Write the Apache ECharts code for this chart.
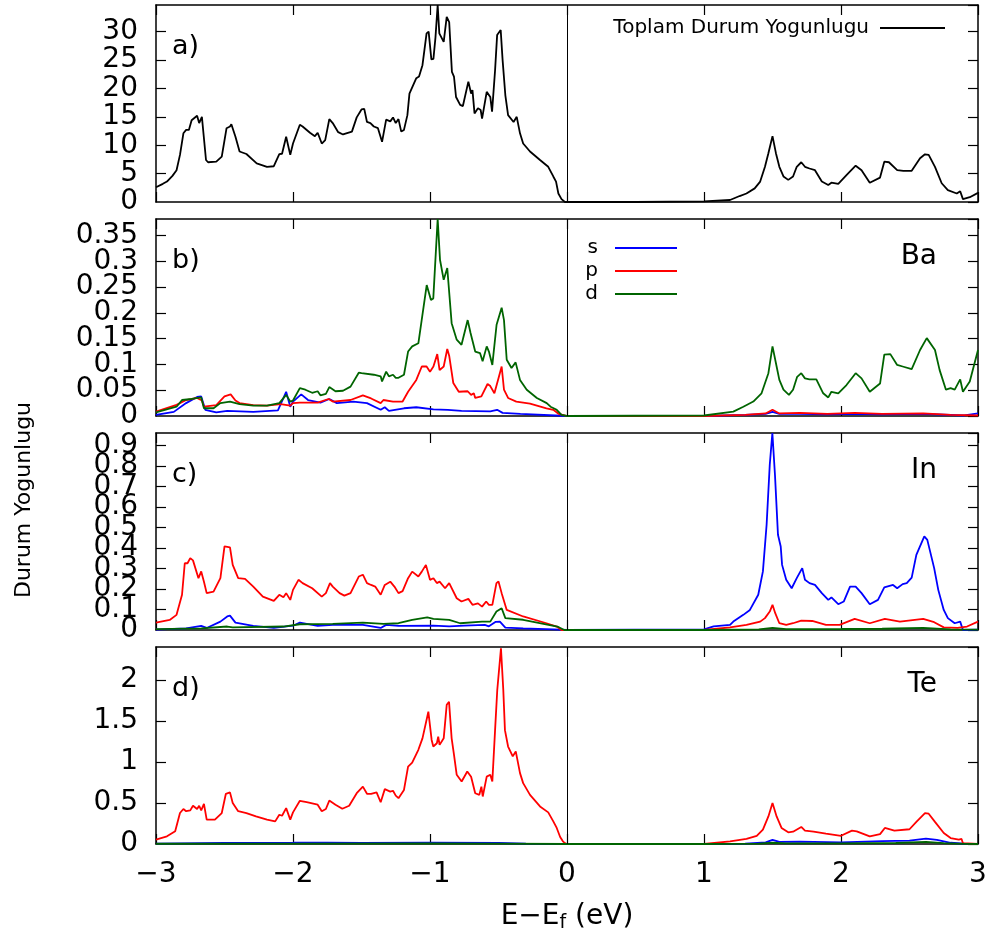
<!DOCTYPE html>
<html>
<head>
<meta charset="utf-8">
<script src="https://cdn.jsdelivr.net/npm/echarts@6/dist/echarts.min.js"></script>
<style>
html,body{margin:0;padding:0;background:#fff;}
#chart{width:995px;height:947px;}
</style>
</head>
<body>
<div id="chart"></div>
<script>
// ---------- DATA (energy in eV, DOS values) ----------
const xTicks = [-3, -2, -1, 0, 1, 2, 3];
const panelLetters = ['a)', 'b)', 'c)', 'd)'];
const atomNames = ['', 'Ba', 'In', 'Te'];
const yMax = [34.7, 0.382, 0.962, 2.405];
const yStep = [5, 0.05, 0.1, 0.5];

const total = [[-3.0,2.6],[-2.95,3.2],[-2.92,3.6],[-2.88,4.6],[-2.85,5.6],[-2.825,8.3],[-2.80,12.1],[-2.78,12.7],[-2.76,12.7],[-2.74,14.4],[-2.70,15.2],[-2.685,13.9],[-2.665,15.0],[-2.635,7.4],[-2.62,7.0],[-2.56,7.1],[-2.52,8.0],[-2.485,13.0],[-2.46,13.3],[-2.45,13.7],[-2.42,11.5],[-2.39,8.9],[-2.34,8.45],[-2.265,6.8],[-2.19,6.2],[-2.14,6.3],[-2.10,8.45],[-2.08,8.5],[-2.05,11.5],[-2.02,8.3],[-2.00,10.3],[-1.95,13.6],[-1.93,13.3],[-1.876,12.2],[-1.84,11.6],[-1.82,12.2],[-1.79,10.3],[-1.765,10.9],[-1.735,14.6],[-1.71,13.9],[-1.67,12.3],[-1.635,11.9],[-1.57,12.4],[-1.535,14.9],[-1.50,16.3],[-1.48,16.4],[-1.46,14.1],[-1.435,13.9],[-1.41,13.3],[-1.38,13.0],[-1.35,10.6],[-1.32,14.5],[-1.29,14.2],[-1.27,14.9],[-1.25,13.9],[-1.23,14.6],[-1.21,12.4],[-1.19,12.7],[-1.165,15.3],[-1.15,19.1],[-1.13,20.2],[-1.10,21.8],[-1.08,22.1],[-1.055,24.1],[-1.025,29.7],[-1.01,30.0],[-0.99,25.1],[-0.975,25.2],[-0.96,29.0],[-0.944,34.7],[-0.932,29.7],[-0.90,28.2],[-0.878,32.6],[-0.86,31.7],[-0.84,22.9],[-0.825,22.1],[-0.81,18.5],[-0.78,17.1],[-0.76,16.9],[-0.72,21.2],[-0.70,19.1],[-0.69,19.7],[-0.675,15.6],[-0.65,16.5],[-0.63,16.2],[-0.62,14.7],[-0.586,19.4],[-0.56,18.5],[-0.547,15.9],[-0.525,23.2],[-0.51,29.4],[-0.484,30.3],[-0.47,25.0],[-0.45,18.8],[-0.43,15.3],[-0.39,14.1],[-0.367,15.0],[-0.343,12.1],[-0.32,10.3],[-0.27,8.9],[-0.197,7.4],[-0.137,6.2],[-0.10,4.5],[-0.08,3.6],[-0.063,1.5],[-0.04,0.5],[-0.015,0],[0,0],[0.5,0],[1.0,0.1],[1.19,0.35],[1.26,1.05],[1.31,1.5],[1.37,2.4],[1.41,3.6],[1.445,6.2],[1.47,8.6],[1.50,11.6],[1.525,8.6],[1.55,6.2],[1.56,6.2],[1.58,4.5],[1.615,3.9],[1.65,4.5],[1.677,6.2],[1.71,7.0],[1.737,6.2],[1.77,5.9],[1.81,5.6],[1.86,3.6],[1.907,3.0],[1.93,3.4],[1.98,3.2],[2.04,4.75],[2.107,6.4],[2.15,5.6],[2.21,3.4],[2.285,4.3],[2.316,7.1],[2.35,7.0],[2.41,5.6],[2.455,5.5],[2.516,5.5],[2.577,7.7],[2.613,8.4],[2.64,8.3],[2.686,6.2],[2.735,3.3],[2.78,2.1],[2.845,1.5],[2.87,1.9],[2.89,0.5],[2.94,0.85],[3.0,1.6]];

const baS = [[-3.0,0.002],[-2.87,0.008],[-2.78,0.025],[-2.70,0.037],[-2.67,0.038],[-2.64,0.012],[-2.56,0.007],[-2.48,0.010],[-2.29,0.008],[-2.11,0.011],[-2.05,0.047],[-2.02,0.018],[-2.0,0.028],[-1.94,0.042],[-1.89,0.031],[-1.80,0.026],[-1.735,0.033],[-1.68,0.025],[-1.56,0.028],[-1.46,0.025],[-1.36,0.012],[-1.33,0.017],[-1.30,0.010],[-1.19,0.015],[-1.10,0.017],[-0.975,0.013],[-0.87,0.012],[-0.77,0.010],[-0.56,0.009],[-0.51,0.012],[-0.47,0.006],[-0.34,0.004],[0,0],[1.0,0],[1.3,0.002],[1.45,0.004],[1.5,0.008],[1.55,0.004],[1.7,0.004],[1.9,0.003],[2.1,0.004],[2.3,0.003],[2.6,0.004],[2.9,0.001],[3.0,0.005]];
const baP = [[-3.0,0.0085],[-2.85,0.0215],[-2.78,0.031],[-2.70,0.035],[-2.665,0.030],[-2.65,0.018],[-2.56,0.021],[-2.50,0.038],[-2.455,0.042],[-2.42,0.030],[-2.39,0.025],[-2.29,0.021],[-2.19,0.020],[-2.09,0.023],[-2.02,0.020],[-2.0,0.025],[-1.95,0.026],[-1.82,0.026],[-1.74,0.033],[-1.71,0.028],[-1.58,0.031],[-1.49,0.040],[-1.43,0.034],[-1.36,0.025],[-1.34,0.031],[-1.27,0.028],[-1.20,0.028],[-1.16,0.047],[-1.10,0.070],[-1.06,0.096],[-1.025,0.096],[-1.00,0.086],[-0.975,0.096],[-0.947,0.120],[-0.93,0.089],[-0.90,0.096],[-0.874,0.130],[-0.86,0.117],[-0.83,0.064],[-0.79,0.047],[-0.725,0.048],[-0.70,0.041],[-0.68,0.044],[-0.67,0.035],[-0.625,0.038],[-0.58,0.062],[-0.56,0.058],[-0.53,0.044],[-0.50,0.073],[-0.477,0.096],[-0.46,0.051],[-0.43,0.035],[-0.37,0.028],[-0.27,0.024],[-0.15,0.015],[-0.10,0.012],[-0.06,0.004],[0,0],[1.0,0],[1.3,0.002],[1.45,0.005],[1.5,0.012],[1.55,0.005],[1.7,0.006],[1.9,0.004],[2.1,0.006],[2.3,0.004],[2.6,0.005],[2.8,0.002],[3.0,0.001]];
const baD = [[-3.0,0.007],[-2.85,0.018],[-2.81,0.031],[-2.74,0.033],[-2.67,0.036],[-2.65,0.015],[-2.58,0.015],[-2.53,0.025],[-2.46,0.028],[-2.39,0.023],[-2.29,0.020],[-2.19,0.020],[-2.10,0.025],[-2.05,0.041],[-2.02,0.028],[-2.00,0.030],[-1.95,0.054],[-1.91,0.051],[-1.86,0.045],[-1.82,0.048],[-1.80,0.040],[-1.76,0.043],[-1.735,0.056],[-1.69,0.048],[-1.635,0.049],[-1.58,0.057],[-1.52,0.084],[-1.50,0.083],[-1.41,0.080],[-1.36,0.077],[-1.35,0.067],[-1.32,0.086],[-1.30,0.077],[-1.27,0.080],[-1.25,0.074],[-1.23,0.074],[-1.19,0.080],[-1.16,0.125],[-1.13,0.135],[-1.085,0.141],[-1.05,0.206],[-1.024,0.254],[-0.993,0.225],[-0.976,0.228],[-0.944,0.382],[-0.927,0.303],[-0.90,0.264],[-0.874,0.287],[-0.842,0.180],[-0.805,0.148],[-0.77,0.138],[-0.725,0.186],[-0.704,0.161],[-0.69,0.158],[-0.67,0.125],[-0.635,0.122],[-0.616,0.106],[-0.586,0.135],[-0.57,0.125],[-0.545,0.099],[-0.514,0.177],[-0.477,0.210],[-0.46,0.186],[-0.44,0.109],[-0.405,0.093],[-0.375,0.104],[-0.343,0.070],[-0.294,0.051],[-0.22,0.035],[-0.148,0.025],[-0.12,0.018],[-0.075,0.012],[-0.04,0.002],[0,0],[1.0,0.001],[1.214,0.0085],[1.287,0.018],[1.36,0.028],[1.42,0.044],[1.47,0.083],[1.50,0.135],[1.53,0.096],[1.55,0.070],[1.56,0.072],[1.58,0.051],[1.62,0.041],[1.65,0.051],[1.68,0.076],[1.71,0.083],[1.737,0.073],[1.77,0.071],[1.82,0.071],[1.87,0.044],[1.907,0.036],[1.93,0.047],[1.98,0.044],[2.04,0.060],[2.107,0.083],[2.15,0.073],[2.21,0.047],[2.285,0.063],[2.316,0.119],[2.36,0.120],[2.41,0.099],[2.45,0.096],[2.516,0.091],[2.577,0.128],[2.626,0.151],[2.686,0.128],[2.72,0.089],[2.766,0.051],[2.80,0.054],[2.83,0.051],[2.87,0.071],[2.89,0.047],[2.94,0.067],[3.0,0.128]];

const inS = [[-3.0,0.002],[-2.78,0.008],[-2.67,0.020],[-2.63,0.010],[-2.53,0.041],[-2.48,0.066],[-2.46,0.070],[-2.42,0.036],[-2.29,0.020],[-2.14,0.010],[-2.0,0.021],[-1.95,0.036],[-1.82,0.020],[-1.71,0.025],[-1.49,0.025],[-1.36,0.010],[-1.32,0.025],[-1.23,0.020],[-0.975,0.021],[-0.86,0.018],[-0.75,0.021],[-0.60,0.025],[-0.57,0.018],[-0.52,0.040],[-0.49,0.041],[-0.45,0.012],[-0.32,0.008],[-0.10,0.003],[0,0],[1.0,0.003],[1.07,0.018],[1.19,0.025],[1.214,0.041],[1.287,0.074],[1.335,0.098],[1.396,0.172],[1.43,0.286],[1.457,0.514],[1.48,0.807],[1.499,0.962],[1.518,0.758],[1.54,0.465],[1.56,0.408],[1.57,0.318],[1.60,0.245],[1.64,0.204],[1.677,0.253],[1.717,0.302],[1.737,0.245],[1.77,0.229],[1.81,0.220],[1.86,0.180],[1.907,0.147],[1.93,0.159],[1.98,0.126],[2.02,0.139],[2.066,0.212],[2.107,0.212],[2.15,0.180],[2.21,0.126],[2.27,0.147],[2.316,0.208],[2.38,0.220],[2.41,0.204],[2.45,0.224],[2.48,0.229],[2.516,0.256],[2.55,0.367],[2.608,0.457],[2.63,0.440],[2.68,0.302],[2.71,0.196],[2.75,0.098],[2.78,0.058],[2.83,0.033],[2.87,0.041],[2.89,0.0],[3.0,0.002]];
const inP = [[-3.0,0.036],[-2.90,0.049],[-2.85,0.074],[-2.81,0.172],[-2.79,0.326],[-2.77,0.326],[-2.75,0.351],[-2.73,0.340],[-2.69,0.253],[-2.67,0.286],[-2.65,0.236],[-2.63,0.180],[-2.58,0.187],[-2.53,0.253],[-2.50,0.408],[-2.46,0.404],[-2.44,0.318],[-2.40,0.253],[-2.35,0.250],[-2.29,0.212],[-2.22,0.163],[-2.14,0.142],[-2.10,0.172],[-2.07,0.160],[-2.05,0.180],[-2.02,0.147],[-2.0,0.196],[-1.96,0.245],[-1.93,0.229],[-1.86,0.204],[-1.79,0.163],[-1.76,0.180],[-1.73,0.229],[-1.71,0.212],[-1.66,0.180],[-1.625,0.168],[-1.58,0.180],[-1.52,0.261],[-1.49,0.270],[-1.46,0.229],[-1.43,0.220],[-1.40,0.212],[-1.36,0.172],[-1.33,0.220],[-1.29,0.236],[-1.26,0.212],[-1.23,0.180],[-1.20,0.190],[-1.16,0.253],[-1.13,0.285],[-1.085,0.261],[-1.06,0.285],[-1.03,0.318],[-1.00,0.245],[-0.975,0.253],[-0.95,0.229],[-0.93,0.236],[-0.89,0.204],[-0.86,0.229],[-0.805,0.155],[-0.77,0.139],[-0.72,0.152],[-0.69,0.123],[-0.65,0.130],[-0.62,0.114],[-0.59,0.139],[-0.57,0.123],[-0.545,0.123],[-0.515,0.229],[-0.50,0.237],[-0.477,0.180],[-0.44,0.098],[-0.32,0.066],[-0.15,0.033],[-0.075,0.017],[-0.04,0.0],[0,0],[1.0,0],[1.19,0.013],[1.31,0.025],[1.41,0.041],[1.445,0.058],[1.48,0.090],[1.50,0.123],[1.52,0.082],[1.55,0.033],[1.60,0.025],[1.65,0.033],[1.71,0.046],[1.79,0.044],[1.89,0.025],[1.99,0.025],[2.10,0.054],[2.21,0.033],[2.32,0.054],[2.43,0.041],[2.60,0.054],[2.68,0.038],[2.75,0.013],[2.85,0.010],[2.92,0.017],[3.0,0.041]];
const inD = [[-3.0,0.004],[-2.67,0.008],[-2.48,0.017],[-2.44,0.013],[-2.07,0.017],[-1.95,0.028],[-1.71,0.030],[-1.49,0.036],[-1.34,0.030],[-1.23,0.033],[-1.13,0.049],[-1.02,0.062],[-0.975,0.054],[-0.86,0.049],[-0.78,0.033],[-0.62,0.041],[-0.56,0.041],[-0.515,0.090],[-0.477,0.106],[-0.45,0.058],[-0.32,0.050],[-0.07,0.017],[-0.02,0],[0,0],[1.0,0],[1.4,0.003],[1.5,0.010],[1.6,0.004],[2.0,0.005],[2.3,0.006],[2.6,0.010],[2.8,0.003],[3.0,0.002]];

const teS = [[-3.0,0.005],[-2.5,0.012],[-2.0,0.015],[-1.75,0.018],[-1.5,0.012],[-1.0,0.015],[-0.5,0.012],[-0.3,0.005],[0,0],[1.0,0],[1.3,0.005],[1.45,0.02],[1.5,0.05],[1.55,0.025],[1.7,0.03],[2.0,0.02],[2.3,0.035],[2.5,0.04],[2.62,0.065],[2.7,0.05],[2.8,0.015],[2.9,0.003],[3.0,0]];
const teP = [[-3.0,0.054],[-2.92,0.094],[-2.86,0.155],[-2.825,0.378],[-2.80,0.427],[-2.78,0.40],[-2.75,0.41],[-2.73,0.467],[-2.70,0.427],[-2.685,0.467],[-2.67,0.41],[-2.65,0.49],[-2.63,0.297],[-2.57,0.297],[-2.52,0.378],[-2.49,0.613],[-2.46,0.63],[-2.44,0.50],[-2.40,0.40],[-2.34,0.378],[-2.27,0.337],[-2.19,0.297],[-2.13,0.276],[-2.10,0.357],[-2.08,0.345],[-2.05,0.438],[-2.02,0.297],[-2.0,0.386],[-1.95,0.527],[-1.90,0.51],[-1.82,0.48],[-1.79,0.40],[-1.76,0.427],[-1.735,0.53],[-1.69,0.48],[-1.64,0.43],[-1.59,0.467],[-1.535,0.62],[-1.49,0.70],[-1.46,0.613],[-1.43,0.613],[-1.39,0.63],[-1.36,0.51],[-1.33,0.67],[-1.29,0.64],[-1.27,0.65],[-1.25,0.59],[-1.23,0.56],[-1.19,0.66],[-1.16,0.945],[-1.13,0.994],[-1.085,1.15],[-1.055,1.29],[-1.012,1.615],[-0.988,1.27],[-0.976,1.19],[-0.95,1.23],[-0.94,1.31],[-0.93,1.21],[-0.90,1.29],[-0.878,1.70],[-0.861,1.735],[-0.842,1.29],[-0.825,1.09],[-0.805,0.845],[-0.769,0.763],[-0.728,0.885],[-0.70,0.82],[-0.69,0.84],[-0.67,0.62],[-0.64,0.60],[-0.625,0.70],[-0.615,0.58],[-0.586,0.823],[-0.56,0.845],[-0.545,0.763],[-0.525,1.39],[-0.509,1.88],[-0.482,2.39],[-0.465,1.88],[-0.453,1.39],[-0.43,1.19],[-0.396,1.07],[-0.374,1.13],[-0.343,0.865],[-0.32,0.743],[-0.27,0.60],[-0.197,0.459],[-0.137,0.386],[-0.10,0.276],[-0.075,0.196],[-0.05,0.086],[-0.03,0.033],[-0.015,0.01],[0,0],[1.0,0],[1.19,0.033],[1.31,0.062],[1.385,0.10],[1.43,0.175],[1.47,0.337],[1.50,0.50],[1.53,0.337],[1.566,0.196],[1.615,0.142],[1.65,0.15],[1.71,0.208],[1.737,0.163],[1.80,0.15],[1.89,0.126],[2.0,0.10],[2.08,0.163],[2.115,0.155],[2.21,0.093],[2.285,0.12],[2.32,0.196],[2.39,0.163],[2.50,0.18],[2.55,0.27],[2.613,0.378],[2.64,0.37],[2.686,0.27],[2.75,0.135],[2.80,0.073],[2.86,0.054],[2.88,0.062],[2.89,0.01],[3.0,0]];
const teD = [[-3.0,0.003],[-2.0,0.005],[-1.0,0.006],[-0.5,0.005],[0,0],[1.0,0],[1.4,0.005],[1.5,0.015],[1.6,0.008],[2.0,0.008],[2.4,0.012],[2.62,0.025],[2.75,0.01],[2.9,0.002],[3.0,0]];

// ---------- LAYOUT ----------
const gridTop = [5, 219, 433, 647];
const gridH = 197;
const gridLeft = 156, gridRight = 17;
const FONT = 'DejaVu Sans, sans-serif';
const colS = '#0000ff', colP = '#ff0000', colD = '#006400';

const grids = [], xAxes = [], yAxes = [], series = [];
for (let i = 0; i < 4; i++) {
  grids.push({ left: gridLeft, right: gridRight, top: gridTop[i], height: gridH });
  const axLine = { show: true, onZero: false, lineStyle: { color: '#000', width: 1.5 } };
  const tick = { show: true, inside: true, length: 10, lineStyle: { color: '#000', width: 1.2 } };
  const yLab = { margin: 18, fontSize: 28, color: '#000', fontFamily: FONT, hideOverlap: false };
  xAxes.push({
    gridIndex: i, type: 'value', min: xTicks[0], max: xTicks[xTicks.length - 1], interval: 1,
    position: 'bottom', axisLine: axLine, axisTick: tick, splitLine: { show: false },
    axisLabel: { show: i === 3, margin: 17, fontSize: 28, color: '#000', fontFamily: FONT,
      formatter: v => (v < 0 ? '\u2212' + Math.abs(v) : String(v)) },
    name: i === 3 ? '{n|E\u2212E}{s|f}{n| (eV)}' : '', nameLocation: 'middle', nameGap: 57,
    nameTextStyle: { rich: {
      n: { fontSize: 28, fontFamily: FONT, color: '#000', lineHeight: 32 },
      s: { fontSize: 19, fontFamily: FONT, color: '#000', lineHeight: 14, verticalAlign: 'bottom' } } }
  });
  xAxes.push({
    gridIndex: i, type: 'value', min: xTicks[0], max: xTicks[xTicks.length - 1], interval: 1,
    position: 'top', axisLine: axLine, axisTick: tick, splitLine: { show: false },
    axisLabel: { show: false }
  });
  // main left axis: labels above zero
  yAxes.push({
    gridIndex: i, type: 'value', min: 0, max: yMax[i], interval: yStep[i], position: 'left',
    axisLine: axLine, axisTick: tick, splitLine: { show: false },
    axisLabel: Object.assign({ show: true, showMinLabel: false, showMaxLabel: false }, yLab)
  });
  // helper left axis: only the "0" label
  yAxes.push({
    gridIndex: i, type: 'value', min: 0, max: yMax[i], interval: yMax[i], position: 'left',
    axisLine: { show: false, onZero: false }, axisTick: { show: false }, splitLine: { show: false },
    axisLabel: Object.assign({ show: true, showMinLabel: true, showMaxLabel: false }, yLab)
  });
  // right mirror axis
  yAxes.push({
    gridIndex: i, type: 'value', min: 0, max: yMax[i], interval: yStep[i], position: 'right',
    axisLine: axLine, axisTick: tick, splitLine: { show: false }, axisLabel: { show: false }
  });
}

const zeroLine = {
  silent: true, symbol: 'none', animation: false,
  label: { show: false },
  lineStyle: { color: '#000', width: 1, type: 'solid' },
  data: [{ xAxis: 0 }]
};
function line(name, data, color, gi, withZero) {
  const s = {
    name, type: 'line', data, xAxisIndex: gi * 2, yAxisIndex: gi * 3,
    showSymbol: false, symbol: 'none', color,
    lineStyle: { color, width: 1.8 }, itemStyle: { color },
    animation: false, silent: true
  };
  if (withZero) s.markLine = zeroLine;
  return s;
}
series.push(line('Toplam Durum Yogunlugu', total, '#000', 0, true));
series.push(line('s', baS, colS, 1, true));
series.push(line('p', baP, colP, 1, false));
series.push(line('d', baD, colD, 1, false));
series.push(line('s', inS, colS, 2, true));
series.push(line('p', inP, colP, 2, false));
series.push(line('d', inD, colD, 2, false));
series.push(line('s', teS, colS, 3, true));
series.push(line('p', teP, colP, 3, false));
series.push(line('d', teD, colD, 3, false));

const graphics = [];
for (let i = 0; i < 4; i++) {
  graphics.push({ type: 'text', left: 172, top: gridTop[i] + 28,
    style: { text: panelLetters[i], fontSize: 27, fontFamily: FONT, fill: '#000' } });
  if (atomNames[i]) {
    graphics.push({ type: 'text', right: 58, top: gridTop[i] + 24,
      style: { text: atomNames[i], fontSize: 28, fontFamily: FONT, fill: '#000' } });
  }
}
graphics.push({ type: 'text', x: 24, y: 500, rotation: Math.PI / 2,
  style: { text: 'Durum Yogunlugu', fontSize: 22, fontFamily: FONT, fill: '#000',
    align: 'center', verticalAlign: 'middle' } });

const option = {
  animation: false,
  backgroundColor: '#fff',
  grid: grids, xAxis: xAxes, yAxis: yAxes, series,
  legend: [
    { data: ['Toplam Durum Yogunlugu'], right: 45, top: 13, align: 'right', icon: 'rect',
      itemWidth: 65, itemHeight: 2, selectedMode: false,
      textStyle: { fontSize: 20, fontFamily: FONT, color: '#000', padding: [0, 6, 0, 0] } },
    { data: ['s', 'p', 'd'], orient: 'vertical', right: 313, top: 232, align: 'right', icon: 'rect',
      itemWidth: 62, itemHeight: 2, itemGap: 1, selectedMode: false,
      textStyle: { fontSize: 20, fontFamily: FONT, color: '#000', lineHeight: 22, padding: [0, 12, 0, 0] } }
  ],
  graphic: graphics
};
const chart = echarts.init(document.getElementById('chart'), null, { renderer: 'canvas' });
chart.setOption(option);
</script>
</body>
</html>
